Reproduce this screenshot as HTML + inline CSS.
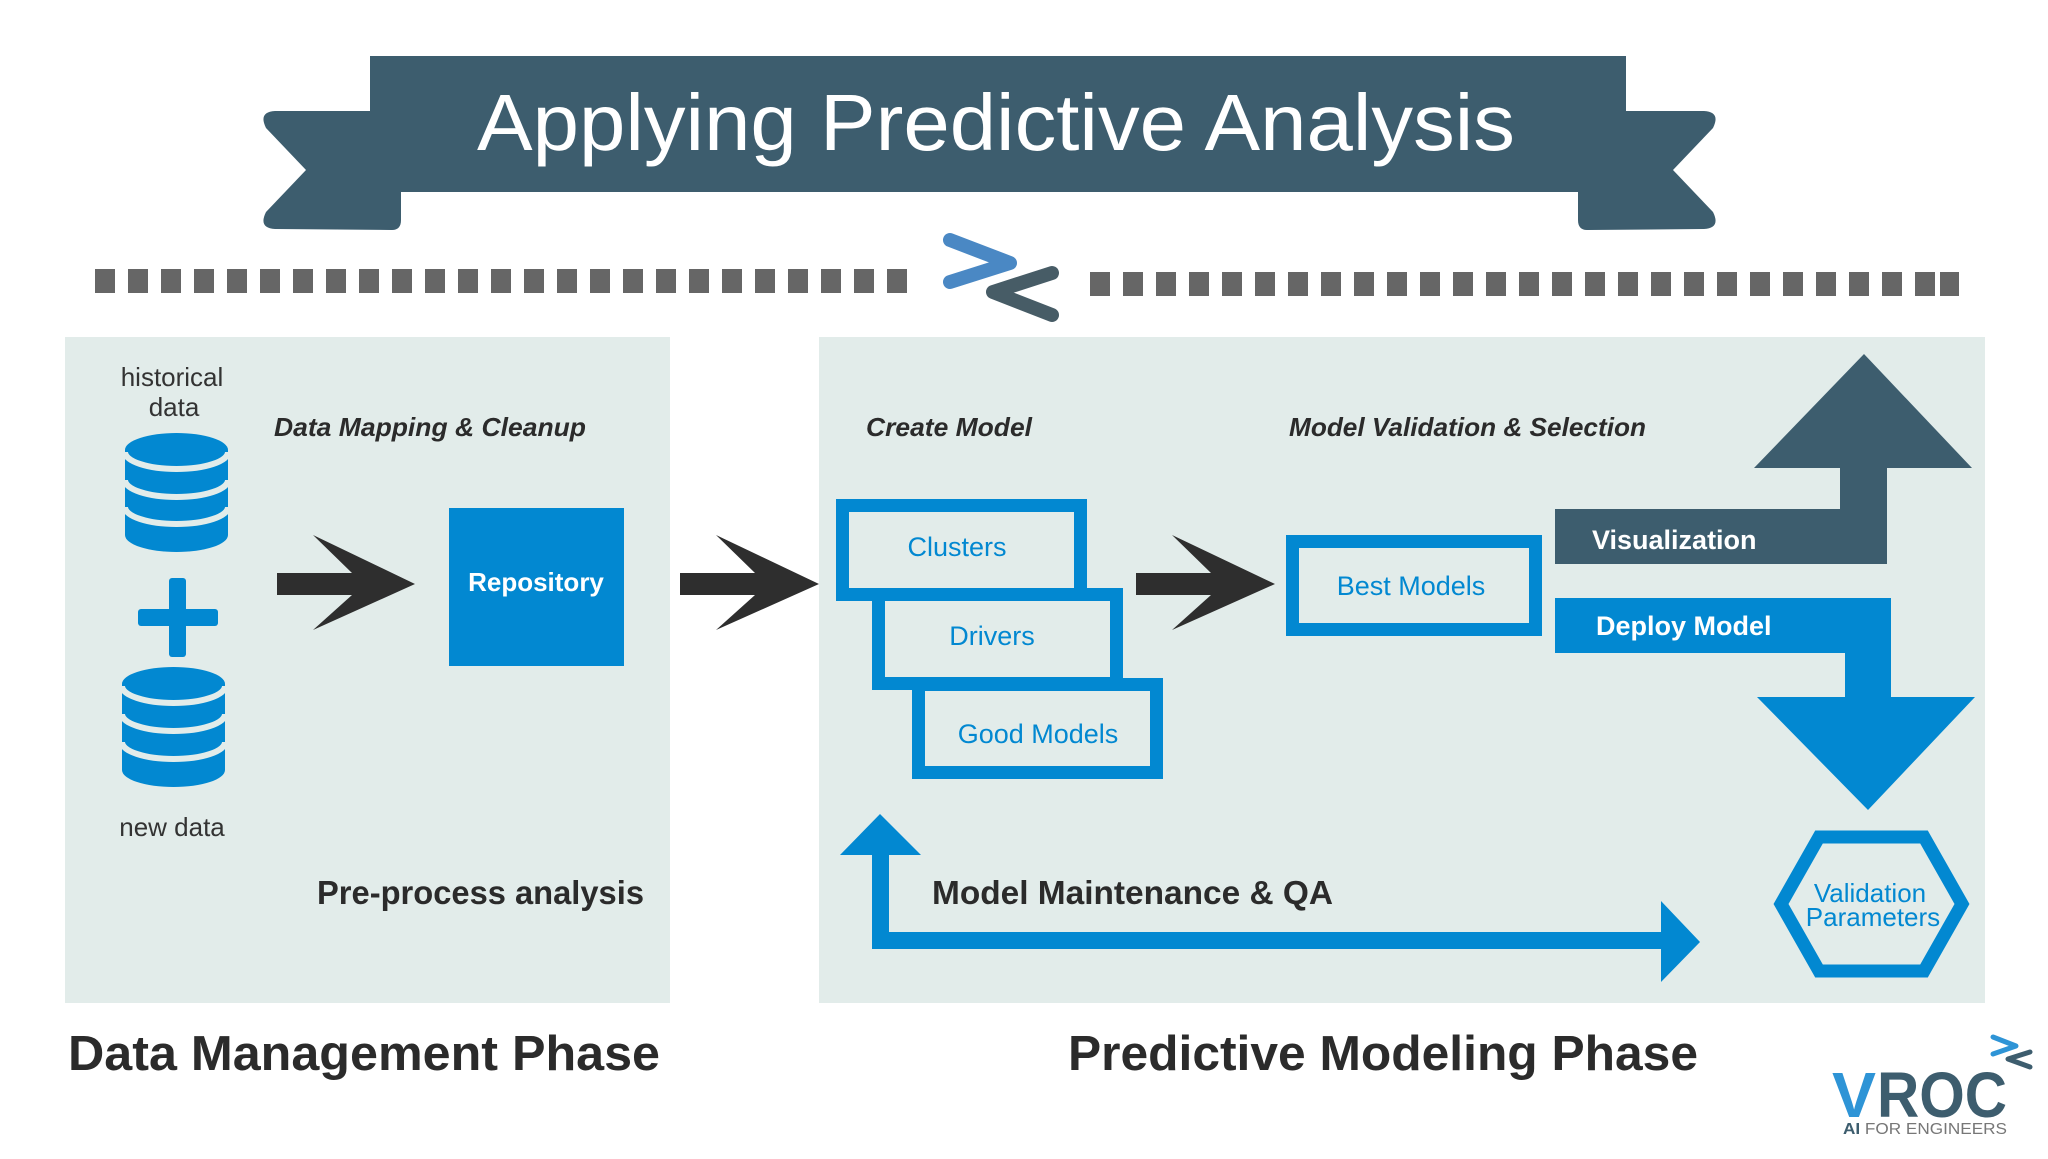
<!DOCTYPE html>
<html><head><meta charset="utf-8"><style>
html,body{margin:0;padding:0;background:#fff;}
svg{display:block;font-family:"Liberation Sans",sans-serif;}
</style></head><body>
<svg width="2048" height="1159" viewBox="0 0 2048 1159" xmlns="http://www.w3.org/2000/svg">
<rect width="2048" height="1159" fill="#fff"/>
<!-- banner -->
<path d="M401,111 L275,111 Q258,112 266,128 L306,170 L266,212 Q258,228 275,229 L392,230 Q401,230 401,220 Z" fill="#3d5d6e"/>
<path d="M1578,111 L1704,111 Q1721,112 1713,128 L1673,170 L1713,212 Q1721,228 1704,229 L1587,230 Q1578,230 1578,220 Z" fill="#3d5d6e"/>
<rect x="370" y="56" width="1256" height="136" fill="#3d5d6e"/>
<text x="996" y="150" text-anchor="middle" font-size="80" fill="#fff" textLength="1038" lengthAdjust="spacingAndGlyphs">Applying Predictive Analysis</text>
<!-- dashes -->
<g fill="#666">
<rect x="95" y="269" width="20" height="24"/><rect x="128" y="269" width="20" height="24"/><rect x="161" y="269" width="20" height="24"/><rect x="194" y="269" width="20" height="24"/><rect x="227" y="269" width="20" height="24"/><rect x="260" y="269" width="20" height="24"/><rect x="293" y="269" width="20" height="24"/><rect x="326" y="269" width="20" height="24"/><rect x="359" y="269" width="20" height="24"/><rect x="392" y="269" width="20" height="24"/><rect x="425" y="269" width="20" height="24"/><rect x="458" y="269" width="20" height="24"/><rect x="491" y="269" width="20" height="24"/><rect x="524" y="269" width="20" height="24"/><rect x="557" y="269" width="20" height="24"/><rect x="590" y="269" width="20" height="24"/><rect x="623" y="269" width="20" height="24"/><rect x="656" y="269" width="20" height="24"/><rect x="689" y="269" width="20" height="24"/><rect x="722" y="269" width="20" height="24"/><rect x="755" y="269" width="20" height="24"/><rect x="788" y="269" width="20" height="24"/><rect x="821" y="269" width="20" height="24"/><rect x="854" y="269" width="20" height="24"/><rect x="887" y="269" width="20" height="24"/>
<rect x="1090" y="272" width="20" height="24"/><rect x="1123" y="272" width="20" height="24"/><rect x="1156" y="272" width="20" height="24"/><rect x="1189" y="272" width="20" height="24"/><rect x="1222" y="272" width="20" height="24"/><rect x="1255" y="272" width="20" height="24"/><rect x="1288" y="272" width="20" height="24"/><rect x="1321" y="272" width="20" height="24"/><rect x="1354" y="272" width="20" height="24"/><rect x="1387" y="272" width="20" height="24"/><rect x="1420" y="272" width="20" height="24"/><rect x="1453" y="272" width="20" height="24"/><rect x="1486" y="272" width="20" height="24"/><rect x="1519" y="272" width="20" height="24"/><rect x="1552" y="272" width="20" height="24"/><rect x="1585" y="272" width="20" height="24"/><rect x="1618" y="272" width="20" height="24"/><rect x="1651" y="272" width="20" height="24"/><rect x="1684" y="272" width="20" height="24"/><rect x="1717" y="272" width="20" height="24"/><rect x="1750" y="272" width="20" height="24"/><rect x="1783" y="272" width="20" height="24"/><rect x="1816" y="272" width="20" height="24"/><rect x="1849" y="272" width="20" height="24"/><rect x="1882" y="272" width="20" height="24"/><rect x="1915" y="272" width="20" height="24"/><rect x="1940" y="272" width="19" height="24"/>
</g>
<!-- logo chevrons -->
<polyline points="950,240 1010,263 950,282" fill="none" stroke="#4a88c4" stroke-width="14" stroke-linecap="round" stroke-linejoin="round"/>
<polyline points="1052,273 993,292 1052,315" fill="none" stroke="#475c66" stroke-width="14" stroke-linecap="round" stroke-linejoin="round"/>
<!-- panels -->
<rect x="65" y="337" width="605" height="666" fill="#e2ecea"/>
<rect x="819" y="337" width="1166" height="666" fill="#e2ecea"/>
<!-- left panel -->
<g font-size="26" fill="#333" text-anchor="middle">
<text x="172" y="386">historical</text>
<text x="174" y="416">data</text>
<text x="172" y="836">new data</text>
</g>
<g fill="#0288d1">
<path d="M125,450 A51.5,17 0 0 1 228,450 L228,535 A51.5,17 0 0 1 125,535 Z"/>
<path d="M122,684 A51.5,17 0 0 1 225,684 L225,770 A51.5,17 0 0 1 122,770 Z"/>
<rect x="138" y="609" width="80" height="17" rx="3"/>
<rect x="169" y="578" width="17" height="79" rx="3"/>
<rect x="449" y="508" width="175" height="158"/>
</g>
<g fill="none" stroke="#e2ecea" stroke-width="6">
<path d="M125,452 A51.5,17 0 0 0 228,452"/>
<path d="M125,480 A51.5,17 0 0 0 228,480"/>
<path d="M125,507 A51.5,17 0 0 0 228,507"/>
<path d="M122,686 A51.5,17 0 0 0 225,686"/>
<path d="M122,714 A51.5,17 0 0 0 225,714"/>
<path d="M122,742 A51.5,17 0 0 0 225,742"/>
</g>
<text x="274" y="436" font-size="26" font-weight="bold" font-style="italic" fill="#2b2b2b" textLength="312" lengthAdjust="spacingAndGlyphs">Data Mapping &amp; Cleanup</text>
<text x="536" y="591" font-size="26" font-weight="bold" fill="#fff" text-anchor="middle">Repository</text>
<g fill="#2e2e2e">
<path d="M277,573 L352,573 L313,535 L415,584 L313,630 L352,595 L277,595 Z"/>
<path d="M680,573 L755,573 L716,535 L819,584 L716,630 L755,595 L680,595 Z"/>
<path d="M1136,573 L1211,573 L1172,535 L1275,584 L1172,630 L1211,595 L1136,595 Z"/>
</g>
<text x="317" y="904" font-size="33" fill="#2b2b2b" font-weight="bold" textLength="327" lengthAdjust="spacingAndGlyphs">Pre-process analysis</text>
<!-- right panel -->
<g font-size="26" font-weight="bold" font-style="italic" fill="#2b2b2b">
<text x="866" y="436" textLength="166" lengthAdjust="spacingAndGlyphs">Create Model</text>
<text x="1289" y="436" textLength="357" lengthAdjust="spacingAndGlyphs">Model Validation &amp; Selection</text>
</g>
<g fill="#e2ecea" stroke="#0288d1" stroke-width="13">
<rect x="842.5" y="505.5" width="238" height="89"/>
<rect x="878.5" y="594.5" width="238" height="89"/>
<rect x="918.5" y="684.5" width="238" height="88"/>
<rect x="1292.5" y="541.5" width="243" height="88"/>
</g>
<g font-size="27" fill="#0288d1" text-anchor="middle">
<text x="957" y="556">Clusters</text>
<text x="992" y="645">Drivers</text>
<text x="1038" y="743">Good Models</text>
<text x="1411" y="595">Best Models</text>
</g>
<!-- visualization -->
<path d="M1555,509 L1840,509 L1840,468 L1754,468 L1864,354 L1972,468 L1887,468 L1887,564 L1555,564 Z" fill="#3d5d6e"/>
<text x="1592" y="549" font-size="27" font-weight="bold" fill="#fff">Visualization</text>
<path d="M1555,598 L1891,598 L1891,697 L1975,697 L1868,810 L1757,697 L1845,697 L1845,653 L1555,653 Z" fill="#0288d1"/>
<text x="1596" y="635" font-size="27" font-weight="bold" fill="#fff">Deploy Model</text>
<!-- hexagon -->
<polygon points="1819,837 1924,837 1962,904 1924,971 1819,971 1781,904" fill="#e2ecea" stroke="#0288d1" stroke-width="13" stroke-linejoin="miter"/>
<g font-size="26" fill="#0288d1" text-anchor="middle">
<text x="1870" y="902">Validation</text>
<text x="1873" y="926">Parameters</text>
</g>
<!-- maintenance arrow -->
<path d="M840,855 L880,814 L921,855 L889,855 L889,932 L1661,932 L1661,901 L1700,942 L1661,982 L1661,949 L872,949 L872,855 Z" fill="#0288d1"/>
<text x="932" y="904" font-size="33" font-weight="bold" fill="#2b2b2b" textLength="401" lengthAdjust="spacingAndGlyphs">Model Maintenance &amp; QA</text>
<!-- phase titles -->
<g font-size="49" font-weight="bold" fill="#2b2b2b">
<text x="68" y="1070" textLength="592" lengthAdjust="spacingAndGlyphs">Data Management Phase</text>
<text x="1068" y="1070" textLength="630" lengthAdjust="spacingAndGlyphs">Predictive Modeling Phase</text>
</g>
<!-- VROC logo -->
<text x="1832" y="1117" font-size="64" font-weight="bold" fill="#2e94d6" textLength="44" lengthAdjust="spacingAndGlyphs">V</text>
<text x="1877" y="1117" font-size="64" font-weight="bold" fill="#3d5d6e" textLength="130" lengthAdjust="spacingAndGlyphs">ROC</text>
<text x="1843" y="1134" font-size="16" fill="#777" textLength="164" lengthAdjust="spacingAndGlyphs"><tspan font-weight="bold" fill="#3d5d6e">AI</tspan> FOR ENGINEERS</text>
<polyline points="1993,1037 2016,1046 1993,1054" fill="none" stroke="#2e94d6" stroke-width="5" stroke-linecap="round" stroke-linejoin="round"/>
<polyline points="2030,1052 2008,1059 2030,1067" fill="none" stroke="#3d5d6e" stroke-width="5" stroke-linecap="round" stroke-linejoin="round"/>
</svg>
</body></html>
